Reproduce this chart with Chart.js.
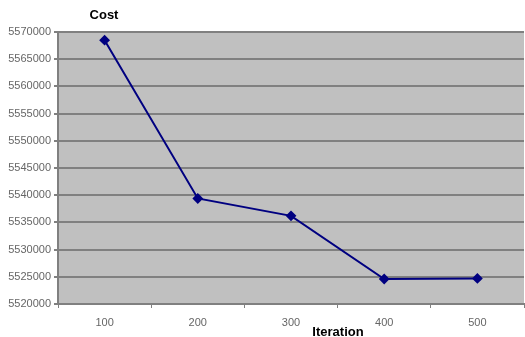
<!DOCTYPE html>
<html lang="en">
<head>
  <meta charset="UTF-8" />
  <title>Cost per Iteration</title>
  <script src="https://cdn.jsdelivr.net/npm/chart.js@4.4.0/dist/chart.umd.min.js"></script>
  <style>
    html, body { margin: 0; padding: 0; background: #fff; overflow: hidden; }
    #wrap { position: relative; width: 525px; height: 337px; overflow: hidden; }
  </style>
</head>
<body>
  <div id="wrap">
    <canvas id="cost-chart" width="530" height="337"></canvas>
  </div>

  <script>
    // data
    const iterations = ['100', '200', '300', '400', '500'];
    const costValues = [5568500, 5539400, 5536200, 5524600, 5524700];
    const yTicks = [5520000, 5525000, 5530000, 5535000, 5540000, 5545000, 5550000, 5555000, 5560000, 5565000, 5570000];

    // grey plot background + the two bold titles
    const excelLook = {
      id: 'excelLook',
      beforeDraw(chart) {
        const { ctx, chartArea: a } = chart;
        ctx.save();
        ctx.fillStyle = '#c0c0c0';
        ctx.fillRect(a.left, a.top, a.right - a.left, a.bottom - a.top);
        ctx.restore();
      },
      afterDraw(chart) {
        const { ctx, chartArea: a } = chart;
        ctx.save();
        ctx.fillStyle = '#000';
        ctx.font = 'bold 13px "Liberation Sans", Arial, sans-serif';
        ctx.textAlign = 'center';
        ctx.textBaseline = 'middle';
        ctx.fillText('Cost', a.left + 46, 15);
        ctx.fillText('Iteration', a.left + 280, 332);
        ctx.restore();
      }
    };

    new Chart(document.getElementById('cost-chart'), {
      type: 'line',
      data: {
        labels: iterations,
        datasets: [{
          label: 'Cost',
          data: costValues,
          borderColor: '#000080',
          backgroundColor: '#000080',
          borderWidth: 2,
          pointStyle: 'rectRot',
          pointRadius: 4,
          tension: 0
        }]
      },
      options: {
        responsive: false,
        animation: false,
        layout: { padding: { top: 32, right: 0, left: 0, bottom: 0 } },
        plugins: { legend: { display: false }, tooltip: { enabled: false } },
        scales: {
          x: {
            offset: true,
            afterFit(scale) { scale.height = 33; },
            grid: {
              offset: true,
              drawOnChartArea: false,
              color: '#808080',
              tickLength: 4
            },
            border: { color: '#808080', width: 2 },
            ticks: {
              color: '#666',
              padding: 8,
              font: { family: '"Liberation Sans", Arial, sans-serif', size: 11 }
            }
          },
          y: {
            min: 5520000,
            max: 5570000,
            afterFit(scale) { scale.width = 58; },
            afterBuildTicks(scale) { scale.ticks = yTicks.map(v => ({ value: v })); },
            grid: {
              color: '#808080',
              lineWidth: 2,
              tickLength: 4
            },
            border: { color: '#808080', width: 2 },
            ticks: {
              color: '#666',
              padding: 3,
              font: { family: '"Liberation Sans", Arial, sans-serif', size: 11 },
              callback: v => String(v)
            }
          }
        }
      },
      plugins: [excelLook]
    });
  </script>
</body>
</html>
